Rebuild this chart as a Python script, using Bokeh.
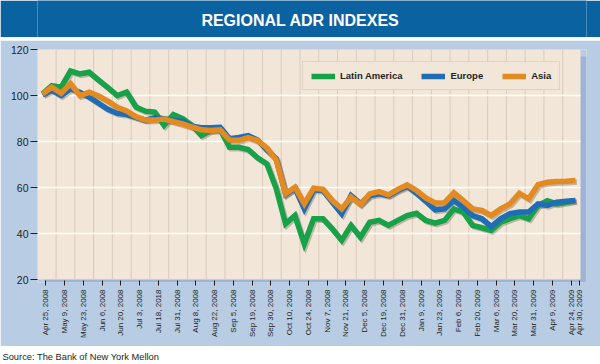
import numpy as np
from bokeh.plotting import figure
from bokeh.models import Range1d, FixedTicker, Legend, LegendItem, Title
from bokeh.layouts import column
from bokeh.core.properties import value
from bokeh.embed import file_html
from bokeh.resources import INLINE

# ---------------- data ----------------
tick_labels = ["Apr 25, 2008", "May 9, 2008", "May 23, 2008", "Jun 6, 2008", "Jun 20, 2008",
               "Jul 3, 2008", "Jul 18, 2018", "Jul 31, 2008", "Aug 8, 2008", "Aug 22, 2008",
               "Sep 5, 2008", "Sep 19, 2008", "Sep 30, 2008", "Oct 10, 2008", "Oct 24, 2008",
               "Nov 7, 2008", "Nov 21, 2008", "Dec 5, 2008", "Dec 19, 2008", "Dec 31, 2008",
               "Jan 9, 2009", "Jan 23, 2009", "Feb 6, 2009", "Feb 20, 2009", "Mar 6, 2009",
               "Mar 20, 2009", "Mar 31, 2009", "Apr 9, 2009", "Apr 24, 2009", "Apr 30, 2009"]
tick_pos = list(range(29)) + [28.46]

latin = [100.7, 104.3, 103.6, 110.6, 109.4, 110.1, 106.7, 103.4, 100.0, 101.5,
         95.0, 93.2, 92.8, 87.0, 91.7, 89.9, 87.0, 82.6, 84.8, 85.1,
         77.5, 77.5, 76.5, 72.9, 70.3, 59.5, 44.2, 47.8, 35.5, 46.4,
         46.4, 42.0, 37.0, 43.5, 38.4, 44.9, 45.7, 43.5, 45.7, 47.8,
         48.8, 45.7, 44.5, 45.7, 50.7, 49.3, 43.5, 42.5, 41.3, 44.9,
         46.4, 47.8, 46.4, 52.2, 54.3, 52.9, 53.6, 54.3]
europe = [100.3, 102.2, 100.0, 102.9, 101.4, 99.3, 96.6, 94.0, 92.2, 91.7,
          90.5, 89.3, 90.3, 89.9, 89.1, 88.8, 86.6, 86.0, 86.0, 86.2,
          81.2, 81.8, 82.6, 80.7, 76.3, 72.5, 57.0, 59.7, 50.7, 59.0,
          58.7, 53.6, 48.6, 56.5, 53.0, 56.5, 57.3, 56.5, 58.8, 60.5,
          57.5, 54.0, 50.3, 50.7, 54.3, 51.4, 47.8, 46.4, 43.0, 46.4,
          48.6, 49.3, 49.3, 52.9, 52.2, 53.6, 54.0, 54.3]
asia = [100.7, 103.6, 101.0, 105.1, 100.0, 101.4, 99.8, 97.6, 94.9, 93.3,
        90.8, 89.3, 89.3, 89.8, 88.6, 87.6, 86.3, 85.1, 84.8, 85.1,
        80.7, 80.5, 81.7, 80.4, 77.2, 72.0, 57.3, 60.1, 52.9, 59.7,
        59.2, 54.3, 50.7, 55.8, 52.6, 57.2, 58.2, 56.8, 59.2, 61.1,
        58.7, 55.5, 53.3, 53.4, 57.7, 54.3, 50.7, 50.0, 47.8, 50.7,
        52.9, 57.5, 55.1, 61.2, 62.3, 62.6, 62.7, 63.0]
# weekly observation positions on the tick scale
weeks = np.linspace(-0.176, 28.23, len(latin))

series_names = ["Latin America", "Europe", "Asia"]
y_ticks = [20, 40, 60, 80, 100, 120]
y_grid = [40, 60, 80, 100]
x_grid = [i + 0.55 for i in range(28)]
title_text = "REGIONAL ADR INDEXES"
source_text = "Source: The Bank of New York Mellon"

# ---------------- style ----------------
DARK_BLUE = "#0a62a0"
STRIP = "#a9c5e6"
PANEL = "#b8cce4"
SHADOW = "#9db4d6"
BEIGE = "#f2e6d8"
VGRID = "#d9cbb9"
TEXT = "#231f20"
COLORS = ["#17a149", "#1e6db5", "#e38a20"]
FONT = "Liberation Sans"

W = 600
BL, BR = 37, 14            # left / right borders shared by every strip
X0, X1 = -0.44, 28.5       # plotting area on the tick scale
Y0, Y1 = 20, 120
XSH = 6 / 18.76            # drop shadow size (6 px right, 3 px down)
YSH = 3 / 2.3


def bare(height, color, top=0, bottom=0, xr=(BL, W - BR), yr=(0, 1)):
    f = figure(width=W, height=height, x_range=xr, y_range=yr,
               output_backend="svg", toolbar_location=None,
               x_axis_location=None, y_axis_location=None,
               min_border_left=BL, min_border_right=BR,
               min_border_top=top, min_border_bottom=bottom)
    f.grid.visible = False
    f.background_fill_color = color
    f.border_fill_color = color
    f.outline_line_color = None
    return f


# ---------------- title bar ----------------
pa = bare(37, DARK_BLUE, yr=(0, 37))
pa.text(x=[300], y=[17.5], text=[title_text], text_color="white",
        text_font=value(FONT), text_font_style="bold", text_font_size="16px",
        text_align="center", text_baseline="middle")
ps = bare(3, STRIP)

# ---------------- main chart ----------------
p = figure(width=W, height=306, x_range=Range1d(X0, X1 + XSH), y_range=Range1d(Y0 - YSH, Y1),
           output_backend="svg", toolbar_location=None,
           min_border_left=BL, min_border_right=BR, min_border_top=9, min_border_bottom=64)
p.background_fill_color = PANEL
p.border_fill_color = PANEL
p.outline_line_color = None
p.xgrid.visible = False
p.ygrid.visible = False

# drop shadow and beige plotting area
p.quad(left=[X0 + 7 / 18.76], right=[X1 + XSH], bottom=[Y0 - YSH], top=[Y1 - 7 / 2.3],
       fill_color=SHADOW, line_color=None)
p.quad(left=[X0], right=[X1], bottom=[Y0], top=[Y1], fill_color=BEIGE, line_color=None)
# grid lines limited to the beige area
p.segment(x0=x_grid, x1=x_grid, y0=Y0, y1=Y1, line_color=VGRID, line_width=1)
p.segment(x0=X0, x1=X1, y0=y_grid, y1=y_grid, line_color="white", line_width=1.3)

# y axis
p.yaxis.ticker = FixedTicker(ticks=y_ticks, minor_ticks=[])
p.yaxis.axis_line_color = None
p.yaxis.major_tick_out = 7
p.yaxis.major_tick_in = 0
p.yaxis.major_tick_line_color = TEXT
p.yaxis.major_label_standoff = 2
p.yaxis.major_label_text_font = FONT
p.yaxis.major_label_text_font_size = "10.5px"
p.yaxis.major_label_text_color = TEXT

# x axis
p.xaxis.ticker = FixedTicker(ticks=tick_pos, minor_ticks=[])
p.xaxis.major_label_overrides = {t: lab for t, lab in zip(tick_pos, tick_labels)}
p.xaxis.major_label_orientation = np.pi / 2
p.xaxis.axis_line_color = None
p.xaxis.major_tick_out = 3
p.xaxis.major_tick_in = 2
p.xaxis.major_tick_line_color = TEXT
p.xaxis.major_label_standoff = 4
p.xaxis.major_label_text_font = FONT
p.xaxis.major_label_text_font_size = "8px"
p.xaxis.major_label_text_color = TEXT

# lines with soft shadows
dx, dy = 0.08, 0.65
all_series = [latin, europe, asia]
for ys in all_series:
    p.line(weeks + dx, np.array(ys) - dy, line_color="#4a4030", line_alpha=0.3,
           line_width=5.5, line_join="miter")
renderers = []
for ys, c in zip(all_series, COLORS):
    r = p.line(weeks, ys, line_color=c, line_width=5.5, line_join="miter")
    renderers.append(r)

legend = Legend(items=[LegendItem(label=n, renderers=[r]) for n, r in zip(series_names, renderers)],
                orientation="horizontal", location=(265, 192),
                padding=8, spacing=19, margin=0, label_standoff=5,
                glyph_width=24, glyph_height=10, label_height=10,
                background_fill_color=BEIGE, background_fill_alpha=1,
                border_line_color="#cdbfae", border_line_width=1,
                label_text_font=FONT, label_text_font_size="9.5px",
                label_text_font_style="bold", label_text_color=TEXT)
p.add_layout(legend)

# ---------------- source line ----------------
pc = bare(18, "white", top=15)
pc.add_layout(Title(text=source_text, align="left", offset=-35, standoff=0,
                    text_font=FONT, text_font_size="9.3px", text_font_style="normal",
                    text_color=TEXT), "above")

layout = column(pa, ps, p, pc, spacing=0)
open("out.html", "w").write(file_html(layout, INLINE))
